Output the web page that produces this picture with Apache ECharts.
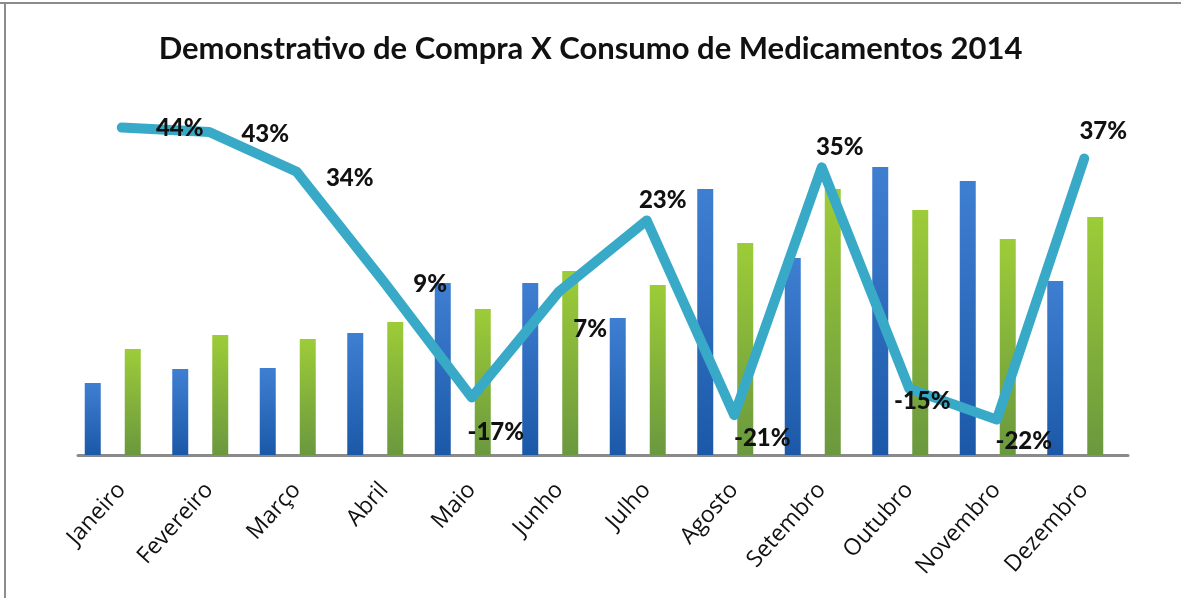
<!DOCTYPE html>
<html>
<head>
<meta charset="utf-8">
<script src="https://cdn.jsdelivr.net/npm/echarts@6/dist/echarts.min.js"></script>
<style>
html,body{margin:0;padding:0;background:#fff;}
#chart{width:1181px;height:598px;}
</style>
</head>
<body>
<div id="chart"></div>
<script>
const titulo = 'Demonstrativo de Compra X Consumo de Medicamentos 2014';
const meses = ['Janeiro','Fevereiro','Março','Abril','Maio','Junho','Julho','Agosto','Setembro','Outubro','Novembro','Dezembro'];
const compra = [72, 86, 87, 122, 172, 172, 137, 266, 197, 288, 274, 174];
const consumo = [106, 120, 116, 133, 146, 184, 170, 212, 266, 245, 216, 238];
const variacao = [44, 43, 34, 9, -17, 7, 23, -21, 35, -15, -22, 37];

// label placement relative to each line point (px)
const labelShift = [[58,1],[56,2],[53,6],[46,2],[24,35],[31,38],[16,-20],[28,23],[18,-20],[13,13],[27,22],[19,-27]];

const chart = echarts.init(document.getElementById('chart'), null, {renderer:'canvas'});

const blueGrad = new echarts.graphic.LinearGradient(0,0,0,1,[
  {offset:0,color:'#3f7fd2'},{offset:1,color:'#1b58a8'}]);
const greenGrad = new echarts.graphic.LinearGradient(0,0,0,1,[
  {offset:0,color:'#9dcc38'},{offset:1,color:'#6a983e'}]);

const option = {
  animation:false,
  backgroundColor:'#fff',
  title:{
    text:titulo, left:'center', top:28,
    textStyle:{fontFamily:'Lato', fontWeight:'bold', fontSize:31, color:'#111'}
  },
  graphic:[
    {type:'line', shape:{x1:0,y1:3,x2:1181,y2:3}, style:{stroke:'#8c8c8c', lineWidth:2}},
    {type:'line', shape:{x1:5,y1:3,x2:5,y2:598}, style:{stroke:'#8c8c8c', lineWidth:2}}
  ],
  grid:[
    {left:78, right:53, top:101, bottom:143},
    {left:69, right:62, top:101, bottom:143}
  ],
  xAxis:[
    {type:'category', gridIndex:0, data:meses, boundaryGap:true,
     axisLine:{onZero:false, lineStyle:{color:'#8a8a8a', width:3}},
     axisTick:{show:false},
     axisLabel:{rotate:48, margin:31, fontFamily:'Open Sans', fontSize:23, color:'#111', interval:0}},
    {type:'category', gridIndex:1, data:meses, show:false}
  ],
  yAxis:[
    {type:'value', gridIndex:0, min:-30, max:50, show:false, splitLine:{show:false}},
    {type:'value', gridIndex:1, min:0, max:354, show:false, splitLine:{show:false}}
  ],
  series:[
    {name:'Compra', type:'bar', xAxisIndex:1, yAxisIndex:1, data:compra,
     barWidth:16, barGap:'150%', itemStyle:{color:blueGrad}},
    {name:'Consumo', type:'bar', xAxisIndex:1, yAxisIndex:1, data:consumo,
     barWidth:16, barGap:'150%', itemStyle:{color:greenGrad}},
    {name:'Variação', type:'line', xAxisIndex:0, yAxisIndex:0,
     data:variacao.map((v,i)=>({value:v, label:{offset:labelShift[i]}})),
     symbol:'circle', symbolSize:1, showSymbol:true,
     itemStyle:{color:'#38aac8'},
     lineStyle:{color:'#38aac8', width:10, cap:'round', join:'round'},
     z:5,
     label:{show:true, position:'inside', formatter:p=>p.value+'%',
       fontFamily:'Lato', fontWeight:'900', fontSize:24, color:'#111'}}
  ]
};
chart.setOption(option);
</script>
</body>
</html>
